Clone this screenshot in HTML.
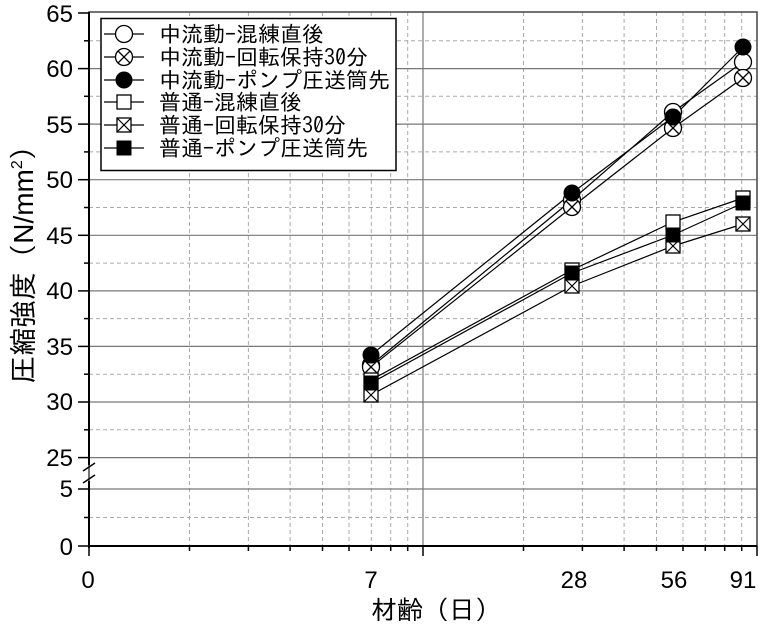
<!DOCTYPE html>
<html><head><meta charset="utf-8"><style>
body{margin:0;background:#fff}
svg{display:block;font-family:"Liberation Sans","Noto Sans CJK JP",sans-serif}
.jp{font-family:"IPAGothic","Noto Sans CJK JP",sans-serif}
.lat{font-family:"Liberation Sans",sans-serif}
</style></head><body>
<svg width="760" height="628" viewBox="0 0 760 628" xmlns="http://www.w3.org/2000/svg">
<defs>
<g id="oc"><circle r="8.5" fill="#fff" stroke="#000" stroke-width="1.3"/></g>
<g id="xc"><circle r="8.5" fill="#fff" stroke="#000" stroke-width="1.3"/><path d="M-6,-6L6,6M-6,6L6,-6" stroke="#000" stroke-width="1.3"/></g>
<g id="fc"><circle r="8.5" fill="#000"/></g>
<g id="os"><rect x="-7" y="-7" width="14" height="14" fill="#fff" stroke="#000" stroke-width="1.3"/></g>
<g id="xs"><rect x="-7" y="-7" width="14" height="14" fill="#fff" stroke="#000" stroke-width="1.3"/><path d="M-7,-7L7,7M-7,7L7,-7" stroke="#000" stroke-width="1.2"/></g>
<g id="fs"><rect x="-7.5" y="-7.5" width="15" height="15" fill="#000"/></g>
</defs>
<g stroke="#aaa" stroke-width="1" stroke-dasharray="4,3">
<line x1="189.5" y1="12" x2="189.5" y2="546"/><line x1="248.4" y1="12" x2="248.4" y2="546"/><line x1="290.1" y1="12" x2="290.1" y2="546"/><line x1="322.5" y1="12" x2="322.5" y2="546"/><line x1="349" y1="12" x2="349" y2="546"/><line x1="371.3" y1="12" x2="371.3" y2="546"/><line x1="390.7" y1="12" x2="390.7" y2="546"/><line x1="407.7" y1="12" x2="407.7" y2="546"/>
<line x1="523.5" y1="12" x2="523.5" y2="546"/><line x1="582.4" y1="12" x2="582.4" y2="546"/><line x1="624.1" y1="12" x2="624.1" y2="546"/><line x1="656.5" y1="12" x2="656.5" y2="546"/><line x1="683" y1="12" x2="683" y2="546"/><line x1="705.3" y1="12" x2="705.3" y2="546"/><line x1="724.7" y1="12" x2="724.7" y2="546"/><line x1="741.7" y1="12" x2="741.7" y2="546"/>
<line x1="89" y1="40.8" x2="757" y2="40.8"/><line x1="89" y1="96.3" x2="757" y2="96.3"/><line x1="89" y1="151.9" x2="757" y2="151.9"/><line x1="89" y1="207.5" x2="757" y2="207.5"/><line x1="89" y1="263.1" x2="757" y2="263.1"/><line x1="89" y1="318.6" x2="757" y2="318.6"/><line x1="89" y1="374.2" x2="757" y2="374.2"/><line x1="89" y1="429.8" x2="757" y2="429.8"/><line x1="89" y1="517.5" x2="757" y2="517.5"/>
</g>
<g stroke="#777" stroke-width="1.2">
<line x1="89" y1="68.6" x2="757" y2="68.6"/><line x1="89" y1="124.1" x2="757" y2="124.1"/><line x1="89" y1="179.7" x2="757" y2="179.7"/><line x1="89" y1="235.3" x2="757" y2="235.3"/><line x1="89" y1="290.9" x2="757" y2="290.9"/><line x1="89" y1="346.4" x2="757" y2="346.4"/><line x1="89" y1="402" x2="757" y2="402"/><line x1="89" y1="457.6" x2="757" y2="457.6"/><line x1="89" y1="489" x2="757" y2="489"/>
<line x1="423" y1="12" x2="423" y2="546"/>
</g>
<rect x="89" y="12" width="668" height="534" fill="none" stroke="#444" stroke-width="1.5"/>
<g stroke="#000" stroke-width="2">
<line x1="89" y1="12" x2="89" y2="465"/><line x1="89" y1="481" x2="89" y2="548"/>
<line x1="88" y1="546" x2="757" y2="546"/>
</g>
<g stroke="#000" stroke-width="1.5">
<line x1="83" y1="471" x2="95" y2="463"/><line x1="83" y1="483" x2="95" y2="475"/>
</g>
<g stroke="#000" stroke-width="1.5">
<line x1="78" y1="13" x2="89" y2="13"/><line x1="78" y1="68.6" x2="89" y2="68.6"/><line x1="78" y1="124.1" x2="89" y2="124.1"/><line x1="78" y1="179.7" x2="89" y2="179.7"/><line x1="78" y1="235.3" x2="89" y2="235.3"/><line x1="78" y1="290.9" x2="89" y2="290.9"/><line x1="78" y1="346.4" x2="89" y2="346.4"/><line x1="78" y1="402" x2="89" y2="402"/><line x1="78" y1="457.6" x2="89" y2="457.6"/><line x1="78" y1="489" x2="89" y2="489"/><line x1="78" y1="546" x2="89" y2="546"/>
<line x1="84" y1="40.8" x2="89" y2="40.8"/><line x1="84" y1="96.3" x2="89" y2="96.3"/><line x1="84" y1="151.9" x2="89" y2="151.9"/><line x1="84" y1="207.5" x2="89" y2="207.5"/><line x1="84" y1="263.1" x2="89" y2="263.1"/><line x1="84" y1="318.6" x2="89" y2="318.6"/><line x1="84" y1="374.2" x2="89" y2="374.2"/><line x1="84" y1="429.8" x2="89" y2="429.8"/><line x1="84" y1="517.5" x2="89" y2="517.5"/>
<line x1="89" y1="546" x2="89" y2="556"/><line x1="423" y1="546" x2="423" y2="556"/><line x1="757" y1="546" x2="757" y2="556"/>
<line x1="189.5" y1="546" x2="189.5" y2="551"/><line x1="248.4" y1="546" x2="248.4" y2="551"/><line x1="290.1" y1="546" x2="290.1" y2="551"/><line x1="322.5" y1="546" x2="322.5" y2="551"/><line x1="349" y1="546" x2="349" y2="551"/><line x1="371.3" y1="546" x2="371.3" y2="551"/><line x1="390.7" y1="546" x2="390.7" y2="551"/><line x1="407.7" y1="546" x2="407.7" y2="551"/>
<line x1="523.5" y1="546" x2="523.5" y2="551"/><line x1="582.4" y1="546" x2="582.4" y2="551"/><line x1="624.1" y1="546" x2="624.1" y2="551"/><line x1="656.5" y1="546" x2="656.5" y2="551"/><line x1="683" y1="546" x2="683" y2="551"/><line x1="705.3" y1="546" x2="705.3" y2="551"/><line x1="724.7" y1="546" x2="724.7" y2="551"/><line x1="741.7" y1="546" x2="741.7" y2="551"/>
</g>
<g font-size="24" text-anchor="end" fill="#000">
<text x="73" y="22">65</text><text x="73" y="77">60</text><text x="73" y="133">55</text><text x="73" y="188">50</text><text x="73" y="244">45</text><text x="73" y="299">40</text><text x="73" y="355">35</text><text x="73" y="410">30</text><text x="73" y="466">25</text><text x="73" y="497">5</text><text x="73" y="555">0</text>
</g>
<g font-size="24" text-anchor="middle" fill="#000">
<text x="88" y="588">0</text><text x="371" y="588">7</text><text x="574" y="588">28</text><text x="674" y="588">56</text><text x="743" y="588">91</text>
</g>
<text class="jp" x="436" y="619" style="font-size:26px" text-anchor="middle">材齢（日）</text>
<text class="jp" transform="translate(33,258) rotate(-90)" style="font-size:28px" text-anchor="middle">圧縮強度（<tspan class="lat">N/mm</tspan><tspan class="lat" style="font-size:16px" dy="-11">2</tspan><tspan dy="11">）</tspan></text>
<g stroke="#000" stroke-width="1.2" fill="none">
<polyline points="371,365 572,200 673,112 743,62"/>
<polyline points="371,367 572,207 673,128 743,78"/>
<polyline points="371,355 572,193 673,117 743,47"/>
<polyline points="371,380 572,270 673,222 743,198"/>
<polyline points="371,395 572,286 673,246 743,224"/>
<polyline points="371,383 572,273 673,235 743,203"/>
</g>
<use href="#oc" x="371" y="365"/><use href="#oc" x="572" y="200"/><use href="#oc" x="673" y="112"/><use href="#oc" x="743" y="62"/>
<use href="#xc" x="371" y="367"/><use href="#xc" x="572" y="207"/><use href="#xc" x="673" y="128"/><use href="#xc" x="743" y="78"/>
<use href="#fc" x="371" y="355"/><use href="#fc" x="572" y="193"/><use href="#fc" x="673" y="117"/><use href="#fc" x="743" y="47"/>
<use href="#os" x="371" y="380"/><use href="#os" x="572" y="270"/><use href="#os" x="673" y="222"/><use href="#os" x="743" y="198"/>
<use href="#xs" x="371" y="395"/><use href="#xs" x="572" y="286"/><use href="#xs" x="673" y="246"/><use href="#xs" x="743" y="224"/>
<use href="#fs" x="371" y="383"/><use href="#fs" x="572" y="273"/><use href="#fs" x="673" y="235"/><use href="#fs" x="743" y="203"/>
<rect x="101" y="18.5" width="295" height="152" fill="#fff" stroke="#000" stroke-width="1.5"/>
<g stroke="#000" stroke-width="1.2">
<line x1="104" y1="34" x2="144" y2="34"/><line x1="104" y1="57" x2="144" y2="57"/><line x1="104" y1="80" x2="144" y2="80"/><line x1="104" y1="102" x2="144" y2="102"/><line x1="104" y1="125" x2="144" y2="125"/><line x1="104" y1="148" x2="144" y2="148"/>
</g>
<use href="#oc" x="124" y="34"/><use href="#xc" x="124" y="57"/><use href="#fc" x="124" y="80"/><use href="#os" x="124" y="102"/><use href="#xs" x="124" y="125"/><use href="#fs" x="124" y="148"/>
<g class="jp" style="font-size:22px" fill="#000">
<text x="159" y="42">中流動-混練直後</text>
<text x="159" y="65">中流動-回転保持30分</text>
<text x="159" y="88">中流動-ポンプ圧送筒先</text>
<text x="159" y="110">普通-混練直後</text>
<text x="159" y="133">普通-回転保持30分</text>
<text x="159" y="156">普通-ポンプ圧送筒先</text>
</g>
</svg>
</body></html>
